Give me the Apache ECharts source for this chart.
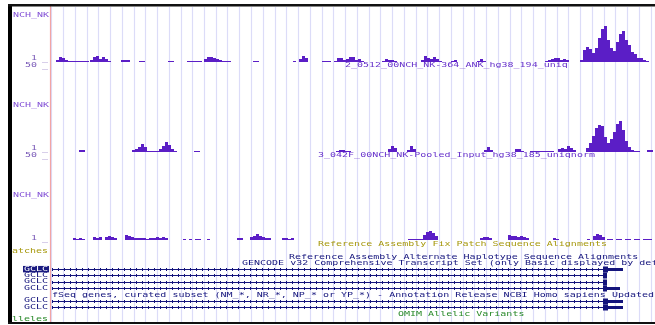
<!DOCTYPE html>
<html>
<head>
<meta charset="utf-8">
<script src="https://cdn.jsdelivr.net/npm/echarts@6/dist/echarts.min.js"></script>
<style>
  html, body { margin: 0; padding: 0; background: #fff; }
  #chart { width: 655px; height: 325px; }
</style>
</head>
<body>
<div id="chart"></div>
<script>
// genome window is 605 units wide, signal is binned 3 units per bar
const BIN = 3;

// [block start, [bin heights...]]
const track1Blocks = [
  [6, [2, 5, 4, 2]],
  [18, [1, 1, 1, 1, 1, 1, 1]],
  [40, [2, 5, 6, 3, 5, 3, 1]],
  [71, [2, 2, 2]],
  [89, [1, 1]],
  [118, [1, 1]],
  [137, [1, 1, 1, 1, 1]],
  [154, [3, 5, 5, 4, 3, 2]],
  [172, [1, 1, 1]],
  [203, [1, 1]],
  [243, [1, 0, 3, 6, 4]],
  [272, [1, 1, 1]],
  [284, [1, 4, 4, 2, 3, 5, 5, 2, 3, 1]],
  [332, [1, 3, 2, 2, 1]],
  [371, [2, 6, 4, 3, 5, 3, 1]],
  [401, [1, 2]],
  [427, [1, 3, 1]],
  [495, [1, 2, 3, 4, 4, 2, 3, 2]],
  [530, [2, 12, 15, 13, 9, 14, 24, 33, 36, 22, 14, 11, 20, 28, 31, 22, 17, 10, 8, 4, 4, 2, 1]]
];

const track2Blocks = [
  [29, [2, 2]],
  [82, [2, 3, 5, 8, 5]],
  [97, [1, 1, 1, 1]],
  [109, [3, 6, 10, 7, 3, 1]],
  [144, [1, 1]],
  [286, [1, 2, 2, 1, 1]],
  [338, [3, 6, 4]],
  [357, [2, 6, 3]],
  [434, [2, 5, 2]],
  [465, [3, 3, 1]],
  [480, [1, 1, 1, 1, 1, 1, 1, 1]],
  [508, [3, 4, 3, 6, 4, 2]],
  [536, [4, 9, 16, 24, 27, 26, 15, 9, 13, 20, 28, 31, 22, 11, 5, 2, 1, 1]],
  [597, [2, 2]]
];

const track3Blocks = [
  [23, [2, 1, 2, 1]],
  [43, [3, 2, 3]],
  [55, [3, 4, 3, 2]],
  [75, [5, 4, 3]],
  [84, [2, 2, 2, 2, 1, 2, 2]],
  [103, [2, 3, 2, 3, 2]],
  [133, [1, 0, 1, 0, 1, 1]],
  [157, [1]],
  [187, [2, 2]],
  [200, [3, 4, 6, 4, 3, 2, 2]],
  [232, [2, 2, 1, 2]],
  [358, [1, 1, 1, 1, 1]],
  [373, [5, 8, 9, 7, 4]],
  [430, [2, 3, 3, 2]],
  [458, [5, 4, 4, 3, 4, 3, 2]],
  [503, [2, 1]],
  [537, [1]],
  [543, [4, 6, 5, 3]],
  [557, [1, 1, 0, 1, 1, 0, 1, 1, 0, 1, 1, 0, 1, 1, 1]]
];

const trackNames = ['NCH_NK', 'NCH_NK', 'NCH_NK'];
const trackTitles = [
  '2_0512_00NCH_NK-364_ANK_hg38_194_uniq',
  '3_042F_00NCH_NK-Pooled_Input_hg38_185_uniqnorm',
  'Reference Assembly Fix Patch Sequence Alignments'
];

// gene rows (row 4 is the RefSeq title row)
const geneRowLabels = ['GCLC', 'GCLC', 'GCLC', 'GCLC', '', 'GCLC', 'GCLC'];
// [row, txStart, txEnd]
const geneSpans = [
  [0, 2, 553], [1, 2, 553], [2, 2, 553], [3, 2, 553], [5, 2, 553], [6, 2, 553]
];
// [row, start, end, thickness 1 = coding, 0.5 = utr]
const geneExons = [
  [0, 553, 558, 1], [0, 558, 573, 0.5],
  [1, 553, 557, 1],
  [2, 553, 557, 1],
  [3, 553, 557, 1], [3, 557, 570, 0.5],
  [5, 553, 558, 1], [5, 558, 573, 0.5],
  [6, 553, 558, 1], [6, 558, 573, 0.5]
];

function expand(blocks) {
  const out = [];
  blocks.forEach(([s, hs]) => hs.forEach((h, i) => {
    if (h > 0) out.push([s + i * BIN + BIN / 2, h]);
  }));
  return out;
}

const FONT = 'DejaVu Sans Mono';
const SIG = '#5b1ec6';
const NAVY = '#14147c';
const LBL = '#8452d6';
const GENE_TOP = 266, GENE_H = 44;

// squat wide text like the browser's pixel font
function txt(x, y, s, color, align) {
  return {
    type: 'text', x: x, y: y, z: 10, scaleY: 0.68,
    style: { text: s, fill: color, font: '10px "' + FONT + '"', textAlign: align || 'left', textVerticalAlign: 'middle' }
  };
}

const rowY = i => GENE_TOP + (i + 0.5) * GENE_H / geneRowLabels.length;
const geneLabelGraphics = [];
geneRowLabels.forEach((name, i) => {
  if (!name) return;
  if (i === 0) {
    geneLabelGraphics.push({ type: 'rect', z: 9, shape: { x: 23, y: rowY(i) - 3.2, width: 26, height: 6.4 }, style: { fill: '#1a1a80' } });
    geneLabelGraphics.push(txt(48, rowY(i), name, '#ffffff', 'right'));
  } else {
    geneLabelGraphics.push(txt(48, rowY(i), name, NAVY, 'right'));
  }
});

const chart = echarts.init(document.getElementById('chart'));

const hidden = { show: false };
const option = {
  animation: false,
  grid: [
    { left: 51.5, right: 0, top: 7, height: 315 },
    { left: 50, width: 605, top: 22, height: 40 },
    { left: 50, width: 605, top: 112, height: 40 },
    { left: 50, width: 605, top: 225, height: 15 },
    { left: 50, width: 605, top: GENE_TOP, height: GENE_H }
  ],
  xAxis: [
    { gridIndex: 0, type: 'value', min: 0, max: 603.5, interval: 11.75,
      axisLine: hidden, axisTick: hidden, axisLabel: hidden,
      splitLine: { show: true, lineStyle: { color: '#dcdcf8', width: 1.2 } } },
    { gridIndex: 1, type: 'value', min: 0, max: 605, show: false },
    { gridIndex: 2, type: 'value', min: 0, max: 605, show: false },
    { gridIndex: 3, type: 'value', min: 0, max: 605, show: false },
    { gridIndex: 4, type: 'value', min: 0, max: 605, show: false }
  ],
  yAxis: [
    { gridIndex: 0, type: 'value', show: false },
    { gridIndex: 1, type: 'value', min: 0, max: 40, show: false },
    { gridIndex: 2, type: 'value', min: 0, max: 40, show: false },
    { gridIndex: 3, type: 'value', min: 0, max: 15, show: false },
    { gridIndex: 4, type: 'category', inverse: true, show: false,
      data: geneRowLabels.map((_, i) => 'row' + i) }
  ],
  series: [
    { type: 'bar', xAxisIndex: 1, yAxisIndex: 1, data: expand(track1Blocks), barWidth: 3, silent: true, itemStyle: { color: SIG } },
    { type: 'bar', xAxisIndex: 2, yAxisIndex: 2, data: expand(track2Blocks), barWidth: 3, silent: true, itemStyle: { color: SIG } },
    { type: 'bar', xAxisIndex: 3, yAxisIndex: 3, data: expand(track3Blocks), barWidth: 3, silent: true, itemStyle: { color: SIG } },
    {
      type: 'custom', xAxisIndex: 4, yAxisIndex: 4, silent: true,
      encode: { x: [1, 2], y: 0 },
      data: geneSpans,
      renderItem: (params, api) => {
        const a = api.coord([api.value(1), api.value(0)]);
        const b = api.coord([api.value(2), api.value(0)]);
        const y = Math.round(a[1]) + 0.5;
        return { type: 'group', children: [
          { type: 'line', shape: { x1: a[0], y1: y, x2: b[0], y2: y }, style: { stroke: NAVY, lineWidth: 1 } },
          { type: 'line', shape: { x1: a[0], y1: y, x2: b[0], y2: y }, style: { stroke: NAVY, lineWidth: 3, lineDash: [1, 5] } }
        ] };
      }
    },
    {
      type: 'custom', xAxisIndex: 4, yAxisIndex: 4, silent: true,
      encode: { x: [1, 2], y: 0 },
      data: geneExons,
      renderItem: (params, api) => {
        const a = api.coord([api.value(1), api.value(0)]);
        const b = api.coord([api.value(2), api.value(0)]);
        const h = 6 * api.value(3);
        return { type: 'rect', shape: { x: a[0], y: Math.round(a[1]) + 0.5 - h / 2, width: b[0] - a[0], height: h }, style: { fill: NAVY } };
      }
    }
  ],
  graphic: [
    // frame
    { type: 'rect', shape: { x: 8, y: 4, width: 4, height: 320 }, style: { fill: '#000' }, z: 20 },
    { type: 'rect', shape: { x: 8, y: 4, width: 647, height: 2.5 }, style: { fill: '#111' }, z: 20 },
    { type: 'rect', shape: { x: 8, y: 322, width: 647, height: 2 }, style: { fill: '#111' }, z: 20 },
    { type: 'line', shape: { x1: 50.5, y1: 6, x2: 50.5, y2: 322 }, style: { stroke: '#f2a4a4', lineWidth: 1.2 }, z: 9 },
    // track labels
    txt(49, 15, trackNames[0], LBL, 'right'),
    txt(49, 105, trackNames[1], LBL, 'right'),
    txt(49, 195, trackNames[2], LBL, 'right'),
    txt(37, 58, '1', '#7a5ab8', 'right'), txt(48, 59, '_', '#7a5ab8', 'right'),
    txt(37, 65, '50', '#7a5ab8', 'right'), txt(48, 66, '_', '#7a5ab8', 'right'),
    txt(37, 148, '1', '#7a5ab8', 'right'), txt(48, 149, '_', '#7a5ab8', 'right'),
    txt(37, 155, '50', '#7a5ab8', 'right'), txt(48, 156, '_', '#7a5ab8', 'right'),
    txt(37, 238, '1', '#7a5ab8', 'right'), txt(48, 239, '_', '#7a5ab8', 'right'),
    txt(48, 251, 'atches', '#a89a10', 'right'),
    txt(48, 319, 'lleles', '#2a8a2a', 'right'),
    // track titles
    txt(345, 65, trackTitles[0], '#6a36cc'),
    txt(318, 155, trackTitles[1], '#6a36cc'),
    txt(318, 244, trackTitles[2], '#a89a10'),
    txt(289, 257, 'Reference Assembly Alternate Haplotype Sequence Alignments', NAVY),
    txt(242, 263, 'GENCODE v32 Comprehensive Transcript Set (only Basic displayed by default)', NAVY),
    txt(52, 295, 'fSeq genes, curated subset (NM_*, NR_*, NP_* or YP_*) - Annotation Release NCBI Homo sapiens Updated Annotation Release', NAVY),
    txt(398, 314, 'OMIM Allelic Variants', '#2a8a2a')
  ].concat(geneLabelGraphics)
};
chart.setOption(option);
</script>
</body>
</html>
